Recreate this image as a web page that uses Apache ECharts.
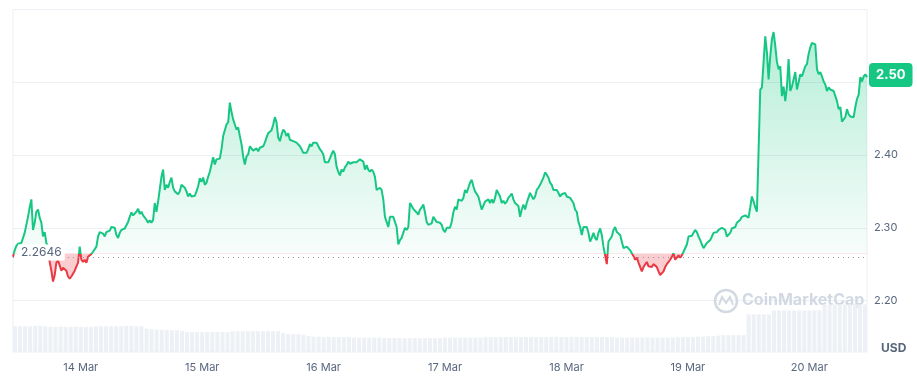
<!DOCTYPE html>
<html><head><meta charset="utf-8">
<script src="https://cdn.jsdelivr.net/npm/echarts@6/dist/echarts.min.js"></script>
<style>html,body{margin:0;padding:0;background:#fff}#c{width:917px;height:376px}</style>
</head><body><div id="c"></div>
<script>
// ---------- data ----------
const startTime = '2025-03-13T11:00:00Z';
const endTime   = '2025-03-20T11:00:00Z';
const baselinePrice = 2.2646;
const priceTicks = [2.20, 2.30, 2.40, 2.50];
const monthNames = ['Jan','Feb','Mar','Apr','May','Jun','Jul','Aug','Sep','Oct','Nov','Dec'];
const currencyLabel = 'USD';
const watermarkText = 'CoinMarketCap';

// price (USD), evenly spaced between startTime and endTime
const priceValues = [
2.260,2.269,2.275,2.278,2.277,2.279,2.279,2.293,2.304,2.315,2.328,2.339,2.297,2.307,2.322,2.325,2.314,2.307,2.288,2.294,
2.279,2.274,2.253,2.241,2.226,2.235,2.252,2.255,2.253,2.241,2.245,2.247,2.241,2.233,2.230,2.233,2.233,2.241,2.240,2.252,
2.274,2.256,2.253,2.256,2.252,2.260,2.260,2.264,2.267,2.268,2.274,2.288,2.294,2.292,2.292,2.288,2.294,2.293,2.296,2.301,
2.301,2.300,2.290,2.286,2.293,2.297,2.299,2.299,2.301,2.308,2.315,2.321,2.317,2.318,2.322,2.326,2.319,2.322,2.317,2.317,
2.311,2.307,2.310,2.307,2.311,2.334,2.322,2.336,2.334,2.370,2.380,2.352,2.359,2.355,2.363,2.369,2.355,2.350,2.348,2.346,
2.350,2.359,2.357,2.355,2.350,2.343,2.347,2.343,2.343,2.344,2.350,2.357,2.368,2.363,2.369,2.359,2.362,2.370,2.377,2.387,
2.397,2.387,2.394,2.395,2.395,2.408,2.426,2.424,2.442,2.445,2.472,2.459,2.449,2.442,2.435,2.438,2.426,2.415,2.398,2.387,
2.398,2.401,2.412,2.412,2.406,2.405,2.409,2.405,2.410,2.408,2.412,2.417,2.424,2.430,2.431,2.434,2.442,2.452,2.445,2.424,
2.419,2.428,2.435,2.432,2.426,2.430,2.421,2.423,2.419,2.421,2.417,2.419,2.412,2.408,2.403,2.402,2.403,2.408,2.415,2.412,
2.417,2.416,2.417,2.415,2.408,2.405,2.401,2.390,2.390,2.390,2.391,2.401,2.406,2.401,2.384,2.377,2.372,2.380,2.377,2.383,
2.386,2.391,2.388,2.387,2.390,2.391,2.390,2.392,2.394,2.394,2.391,2.380,2.386,2.380,2.377,2.380,2.377,2.370,2.352,2.350,
2.355,2.352,2.339,2.315,2.308,2.301,2.315,2.314,2.315,2.314,2.301,2.277,2.283,2.286,2.293,2.300,2.297,2.301,2.334,2.332,
2.326,2.328,2.321,2.318,2.325,2.328,2.332,2.321,2.308,2.304,2.306,2.306,2.315,2.317,2.308,2.310,2.307,2.304,2.297,2.294,
2.300,2.301,2.300,2.308,2.321,2.329,2.325,2.339,2.340,2.337,2.341,2.352,2.348,2.355,2.362,2.366,2.357,2.350,2.348,2.343,
2.334,2.325,2.325,2.336,2.334,2.339,2.334,2.339,2.334,2.341,2.352,2.350,2.343,2.334,2.337,2.333,2.336,2.341,2.344,2.347,
2.339,2.334,2.336,2.330,2.315,2.325,2.332,2.325,2.334,2.341,2.348,2.346,2.339,2.343,2.352,2.355,2.359,2.357,2.369,2.376,
2.373,2.369,2.362,2.359,2.352,2.350,2.352,2.348,2.343,2.346,2.348,2.348,2.343,2.343,2.341,2.339,2.334,2.325,2.322,2.308,
2.301,2.290,2.301,2.300,2.301,2.293,2.281,2.286,2.293,2.286,2.283,2.293,2.299,2.290,2.274,2.262,2.250,2.281,2.283,2.288,
2.297,2.301,2.294,2.294,2.290,2.281,2.272,2.274,2.274,2.272,2.269,2.265,2.261,2.256,2.259,2.252,2.250,2.240,2.246,2.246,
2.253,2.247,2.247,2.246,2.250,2.252,2.246,2.240,2.235,2.233,2.240,2.246,2.250,2.252,2.256,2.260,2.265,2.256,2.259,2.262,
2.259,2.262,2.267,2.269,2.277,2.288,2.290,2.289,2.293,2.297,2.294,2.288,2.283,2.277,2.272,2.274,2.279,2.281,2.283,2.288,
2.293,2.293,2.294,2.297,2.299,2.300,2.300,2.297,2.288,2.288,2.293,2.299,2.297,2.301,2.307,2.308,2.311,2.315,2.314,2.317,
2.315,2.314,2.328,2.343,2.336,2.328,2.322,2.321,2.490,2.493,2.528,2.563,2.541,2.504,2.536,2.559,2.569,2.550,2.528,2.518,
2.522,2.481,2.494,2.474,2.494,2.532,2.488,2.494,2.504,2.514,2.490,2.500,2.511,2.508,2.506,2.522,2.525,2.539,2.548,2.554,
2.554,2.552,2.518,2.511,2.514,2.508,2.501,2.497,2.488,2.493,2.490,2.488,2.488,2.481,2.474,2.463,2.466,2.446,2.446,2.452,
2.463,2.456,2.453,2.453,2.452,2.466,2.477,2.483,2.507,2.501,2.508,2.511,2.507
];

// 24h volume (billion USD), hourly between startTime and endTime
const volumeValues = [
5.2,5.2,5.2,5.2,5.3,5.3,5.2,5.1,5.1,5.1,5.1,5.1,5.1,5.1,5.1,5.1,5.2,5.2,5.2,5.2,
5.2,5.2,5.3,5.3,5.2,5.2,4.7,4.6,4.5,4.5,4.4,4.4,4.4,4.3,4.0,4.0,4.0,4.0,4.0,4.0,
4.0,4.0,4.0,4.2,4.2,4.2,4.2,4.2,4.2,4.2,4.2,4.2,4.2,3.8,3.6,3.6,3.6,3.5,3.2,3.1,
3.1,3.0,3.0,3.0,3.0,3.0,3.0,2.9,2.9,2.9,2.9,2.9,2.9,2.8,2.8,2.8,2.8,2.8,2.8,2.8,
2.8,2.8,2.8,2.8,2.8,2.9,2.9,2.9,2.9,2.9,2.9,2.9,2.9,3.0,3.0,3.0,3.0,3.0,3.0,3.0,
3.0,3.0,3.0,3.0,3.0,3.0,3.0,3.0,3.0,3.0,3.0,3.0,3.0,3.0,3.0,3.0,3.0,3.0,3.0,2.9,
2.9,2.9,2.9,2.9,2.9,2.9,2.9,2.9,2.9,2.9,2.9,3.0,3.0,3.0,3.0,3.1,3.1,3.2,3.2,3.3,
3.4,3.4,3.4,3.4,3.4,7.6,7.6,7.6,7.6,7.6,8.4,8.4,8.4,8.4,8.4,8.4,8.4,8.4,8.4,8.4,
9.6,9.6,9.6,9.6,9.6,9.6,9.6,9.6,9.6
];

// ---------- build ----------
const t0 = Date.parse(startTime), t1 = Date.parse(endTime);
const DAY = 86400000;
const priceData = priceValues.map((v, i) => [t0 + i * (t1 - t0) / (priceValues.length - 1), v]);
const volumeData = volumeValues.map((v, i) => [t0 + i * (t1 - t0) / (volumeValues.length - 1), v]);
const lastPrice = priceValues[priceValues.length - 1];

const GREEN = '#16c784', RED = '#ea3943';
const FONT = 'Inter, "Noto Sans", sans-serif';
const LABEL = '#58667e';
const GRIDC = '#eceff3';

const chart = echarts.init(document.getElementById('c'), null, {renderer: 'canvas'});

const option = {
  animation: false,
  useUTC: true,
  textStyle: {fontFamily: FONT},
  grid: [
    {left: 13, right: 50, top: 9.5, bottom: 75.5, show: true, borderColor: GRIDC, borderWidth: 1, backgroundColor: 'transparent'},
    {left: 13, right: 50, top: 300.5, bottom: 24, show: true, borderColor: GRIDC, borderWidth: 1, backgroundColor: 'transparent'}
  ],
  xAxis: [
    {type: 'time', gridIndex: 0, min: t0, max: t1, show: false},
    {type: 'time', gridIndex: 1, min: t0, max: t1, minInterval: DAY, maxInterval: DAY,
     axisLine: {show: false}, axisTick: {show: false}, splitLine: {show: false},
     axisLabel: {color: LABEL, fontSize: 11, margin: 10, fontFamily: FONT,
       formatter: function (v) {
         const d = new Date(v);
         if (d.getUTCHours() || d.getUTCMinutes()) return '';
         return d.getUTCDate() + ' ' + monthNames[d.getUTCMonth()];
       }}}
  ],
  yAxis: [
    {type: 'value', gridIndex: 0, position: 'right', min: 2.2, max: 2.6, interval: 0.1,
     axisLine: {show: false}, axisTick: {show: false},
     splitLine: {lineStyle: {color: GRIDC, width: 1}},
     axisLabel: {color: LABEL, fontSize: 11, margin: 7, fontFamily: FONT,
       formatter: function (v) {
         return priceTicks.some(t => Math.abs(t - v) < 1e-6) ? v.toFixed(2) : '';
       }}},
    {type: 'value', gridIndex: 1, min: 0, max: 10.4, show: false}
  ],
  series: [
    {
      id: 'price', type: 'line', xAxisIndex: 0, yAxisIndex: 0, data: priceData,
      showSymbol: false, symbol: 'none', z: 3,
      lineStyle: {width: 2, color: GREEN},
      areaStyle: {origin: baselinePrice, opacity: 1, color: 'rgba(22,199,132,0.15)'},
      markLine: {
        silent: true, symbol: 'none', animation: false,
        data: [
          {yAxis: baselinePrice, lineStyle: {color: '#8f99ab', width: 1.2, type: [1, 4]}, label: {show: false}},
          {yAxis: lastPrice, lineStyle: {color: 'rgba(0,0,0,0)', width: 1, type: 'solid'},
           label: {show: true, position: 'end', distance: 2,
             formatter: () => (Math.floor(lastPrice * 100) / 100).toFixed(2),
             backgroundColor: GREEN, color: '#fff', fontWeight: 'bold', fontSize: 13,
             fontFamily: FONT, padding: [6, 7, 5, 7], borderRadius: 4, opacity: 1}}
        ]
      }
    },
    {
      type: 'bar', xAxisIndex: 1, yAxisIndex: 1, data: volumeData,
      barWidth: 4, itemStyle: {color: '#edf0f4'}, silent: true, z: 1
    }
  ]
};
chart.setOption(option);

// colours split at the reference price, placed via the axes
const yTop = chart.convertToPixel({yAxisIndex: 0}, Math.max(...priceValues));
const yBase = chart.convertToPixel({yAxisIndex: 0}, baselinePrice);
const yBot = chart.convertToPixel({yAxisIndex: 0}, Math.min(...priceValues));
const f = (yBase - yTop) / (yBot - yTop);
const xLeft = chart.convertToPixel({xAxisIndex: 0}, t0);
const xRight = chart.convertToPixel({xAxisIndex: 0}, t1);
const yVolBottom = chart.convertToPixel({yAxisIndex: 1}, 0);

const lineGrad = new echarts.graphic.LinearGradient(0, yTop - 5, 0, yBot + 5, [
  {offset: 0, color: GREEN},
  {offset: (yBase - yTop + 5) / (yBot - yTop + 10), color: GREEN},
  {offset: (yBase - yTop + 5) / (yBot - yTop + 10), color: RED},
  {offset: 1, color: RED}
], true);
const areaGrad = new echarts.graphic.LinearGradient(0, yTop, 0, yBot, [
  {offset: 0, color: 'rgba(22,199,132,0.32)'},
  {offset: Math.max(0, f - 0.002), color: 'rgba(22,199,132,0.03)'},
  {offset: f, color: 'rgba(234,57,67,0.25)'},
  {offset: 1, color: 'rgba(234,57,67,0.25)'}
], true);

chart.setOption({
  series: [{id: 'price', lineStyle: {width: 2, color: lineGrad},
            areaStyle: {origin: baselinePrice, opacity: 1, color: areaGrad}}],
  graphic: [
    {type: 'text', z: 100, left: xLeft + 5, top: yBase - 9,
     style: {text: baselinePrice.toFixed(4), fill: LABEL, font: '12px ' + FONT,
       backgroundColor: '#fff', padding: [2, 3, 2, 3]}},
    {type: 'text', z: 100, left: xRight + 14, top: yVolBottom - 10,
     style: {text: currencyLabel, fill: LABEL, font: 'bold 12px ' + FONT}},
    {type: 'circle', z: 0, shape: {cx: xRight - 141, cy: 301, r: 11},
     style: {fill: 'none', stroke: '#d3d9e2', lineWidth: 2.5}},
    {type: 'polyline', z: 0, shape: {points: [[xRight - 148, 305], [xRight - 145, 297], [xRight - 141, 303], [xRight - 137, 297], [xRight - 134, 305]]},
     style: {fill: 'none', stroke: '#d3d9e2', lineWidth: 2}},
    {type: 'text', z: 0, left: xRight - 125, top: 292,
     style: {text: watermarkText, fill: '#d3d9e2', font: 'bold 16px ' + FONT}}
  ]
});
</script>
</body></html>
